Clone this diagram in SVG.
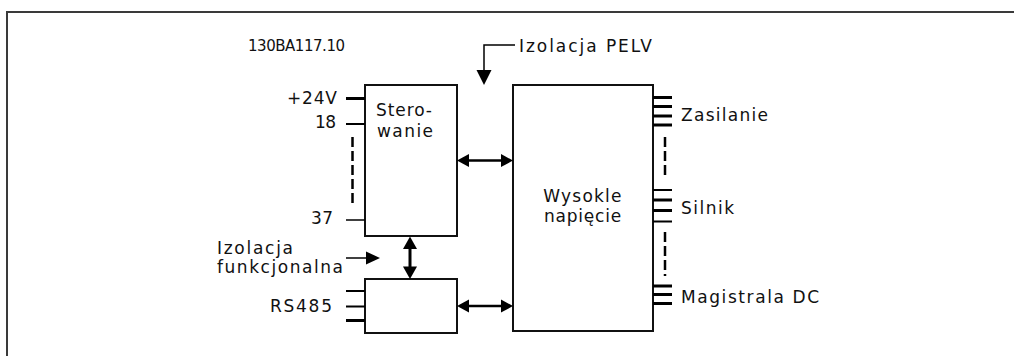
<svg xmlns="http://www.w3.org/2000/svg" width="1014" height="356" viewBox="0 0 1014 356">
<style>
text{font-family:"DejaVu Sans","Verdana",sans-serif;font-size:17px;fill:#111}
.box{fill:#fff;stroke:#111;stroke-width:2}
.pin{stroke:#000;stroke-width:2}
.pinb{stroke:#000;stroke-width:3}
.thin{stroke:#000;stroke-width:1.5;fill:none}
.dash{stroke:#000;stroke-width:2.5;stroke-dasharray:10,4;fill:none}
.ah{fill:#000}
</style>
<rect width="1014" height="356" fill="#fff"/>
<path d="M7,356 V12 H1014" fill="none" stroke="#3a3a3a" stroke-width="2"/>
<text x="248" y="51" textLength="97" style="font-size:15px">130BA117.10</text>
<g id="pelv">
<path class="thin" d="M515,45 H484 V72"/>
<polygon class="ah" points="476.5,70 491.5,70 484,85"/>
<text x="519" y="52" textLength="133">Izolacja PELV</text>
</g>
<g id="sterowanie">
<rect class="box" x="365" y="85" width="92" height="151"/>
<text x="376" y="116" textLength="56">Stero-</text>
<text x="377" y="137" textLength="56">wanie</text>
<line class="pinb" x1="346" y1="98.5" x2="365" y2="98.5"/>
<line class="pin" x1="346" y1="124" x2="365" y2="124"/>
<line class="dash" x1="352.5" y1="137" x2="352.5" y2="203"/>
<line class="thin" x1="346" y1="220" x2="365" y2="220"/>
<text x="287" y="104" textLength="50">+24V</text>
<text x="315" y="128" textLength="21">18</text>
<text x="311" y="224" textLength="22">37</text>
</g>
<g id="rs485">
<rect class="box" x="365" y="279" width="92" height="54"/>
<line class="pin" x1="346" y1="291" x2="365" y2="291"/>
<line class="pin" x1="346" y1="306.5" x2="365" y2="306.5"/>
<line class="pinb" x1="346" y1="320.5" x2="365" y2="320.5"/>
<text x="270" y="312" textLength="62">RS485</text>
</g>
<g id="funkcjonalna">
<line class="thin" x1="346" y1="258" x2="368" y2="258"/>
<polygon class="ah" points="366,251.5 366,264.5 380,258"/>
<text x="217" y="254" textLength="76">Izolacja</text>
<text x="217" y="273" textLength="126">funkcjonalna</text>
</g>
<g id="wysokie">
<rect class="box" x="513" y="85" width="140" height="246"/>
<text x="583" y="202" text-anchor="middle" letter-spacing="1.2">Wysokle</text>
<text x="583" y="222" text-anchor="middle" letter-spacing="0.8">napięcie</text>
<line class="pinb" x1="653" y1="97.5" x2="672" y2="97.5"/>
<line class="pinb" x1="653" y1="106.5" x2="672" y2="106.5"/>
<line class="pinb" x1="653" y1="116" x2="672" y2="116"/>
<line class="pinb" x1="653" y1="125" x2="672" y2="125"/>
<line class="dash" x1="665" y1="137" x2="665" y2="179"/>
<line class="pin" x1="653" y1="190" x2="672" y2="190"/>
<line class="pinb" x1="653" y1="200" x2="672" y2="200"/>
<line class="pinb" x1="653" y1="210.5" x2="672" y2="210.5"/>
<line class="pin" x1="653" y1="221.5" x2="672" y2="221.5"/>
<line class="dash" x1="665" y1="232" x2="665" y2="276"/>
<line class="pinb" x1="653" y1="286" x2="672" y2="286"/>
<line class="pinb" x1="653" y1="294.5" x2="672" y2="294.5"/>
<line class="pinb" x1="653" y1="303.5" x2="672" y2="303.5"/>
<text x="681" y="121" textLength="87">Zasilanie</text>
<text x="681" y="214" textLength="53">Silnik</text>
<text x="681" y="303" textLength="138">Magistrala DC</text>
</g>
<g id="connectors">
<line stroke="#000" stroke-width="3" x1="410" y1="248" x2="410" y2="268"/>
<polygon class="ah" points="410,236.5 403,249 417,249"/>
<polygon class="ah" points="410,279 403,266.5 417,266.5"/>
<line stroke="#000" stroke-width="2.5" x1="467" y1="160.5" x2="503" y2="160.5"/>
<polygon class="ah" points="457,160.5 469,154 469,167"/>
<polygon class="ah" points="513,160.5 501,154 501,167"/>
<line stroke="#000" stroke-width="2.5" x1="467" y1="306" x2="503" y2="306"/>
<polygon class="ah" points="457,306 469,299.5 469,312.5"/>
<polygon class="ah" points="513,306 501,299.5 501,312.5"/>
</g>
</svg>
